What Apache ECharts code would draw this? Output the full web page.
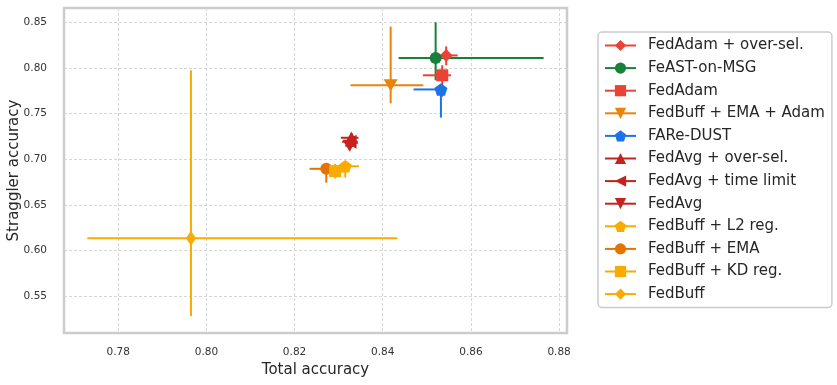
<!DOCTYPE html>
<html>
<head>
<meta charset="utf-8">
<script src="https://cdn.jsdelivr.net/npm/echarts@6/dist/echarts.min.js"></script>
<style>
  html, body { margin: 0; padding: 0; background: #fff; }
  #chart { width: 837px; height: 385px; }
</style>
</head>
<body>
<div id="chart"></div>
<script>
// 方法名称
var methods = ['FedAdam + over-sel.', 'FeAST-on-MSG', 'FedAdam', 'FedBuff + EMA + Adam', 'FARe-DUST',
    'FedAvg + over-sel.', 'FedAvg + time limit', 'FedAvg', 'FedBuff + L2 reg.', 'FedBuff + EMA',
    'FedBuff + KD reg.', 'FedBuff'];
// 总体准确率 (均值 / 下限 / 上限)
var totalAcc = [0.8544, 0.8520, 0.8535, 0.8418, 0.8532, 0.8329, 0.8327, 0.8325, 0.8315, 0.8272, 0.8292, 0.7965];
var totalLow = [0.8518, 0.8436, 0.8491, 0.8327, 0.8470, 0.8305, 0.8308, 0.8315, 0.8290, 0.8234, 0.8265, 0.7730];
var totalHigh = [0.8570, 0.8765, 0.8555, 0.8492, 0.8535, 0.8345, 0.8343, 0.8335, 0.8346, 0.8300, 0.8315, 0.8433];
// 掉队者准确率 (均值 / 下限 / 上限)
var stragAcc = [0.8138, 0.8109, 0.7920, 0.7812, 0.7765, 0.7236, 0.7192, 0.7149, 0.6924, 0.6896, 0.6870, 0.6135];
var stragLow = [0.8029, 0.7866, 0.7685, 0.7613, 0.7457, 0.7180, 0.7150, 0.7110, 0.6800, 0.6744, 0.6790, 0.5283];
var stragHigh = [0.8237, 0.8500, 0.8030, 0.8453, 0.7775, 0.7290, 0.7230, 0.7190, 0.6980, 0.6960, 0.6950, 0.7975];

var pentagon = 'path://M50,0 L97.6,34.5 L79.4,90.5 L20.6,90.5 L2.4,34.5 Z';
var styles = [
    { color: '#EA4335', symbol: 'diamond', size: [13, 13], rotate: 0 },
    { color: '#188038', symbol: 'circle', size: 12, rotate: 0 },
    { color: '#EA4335', symbol: 'rect', size: 12, rotate: 0 },
    { color: '#E8840A', symbol: 'triangle', size: [14, 12], rotate: 180 },
    { color: '#1A73E8', symbol: pentagon, size: [13, 12.5], rotate: 0 },
    { color: '#C5221F', symbol: 'triangle', size: [14, 12], rotate: 0 },
    { color: '#C5221F', symbol: 'triangle', size: [14, 12], rotate: 90 },
    { color: '#C5221F', symbol: 'triangle', size: [14, 12], rotate: 180 },
    { color: '#F9AB00', symbol: pentagon, size: [13, 12.5], rotate: 0 },
    { color: '#E37400', symbol: 'circle', size: 12, rotate: 0 },
    { color: '#F9AB00', symbol: 'rect', size: 12, rotate: 0 },
    { color: '#F9AB00', symbol: 'diamond', size: [10, 15], rotate: 0 }
];

var font = 'DejaVu Sans';
var series = [];
// 点 (图例用 line 系列的图标)
methods.forEach(function (name, i) {
    series.push({
        name: name,
        type: 'line',
        data: [[totalAcc[i], stragAcc[i]]],
        symbol: styles[i].symbol,
        symbolSize: styles[i].size,
        symbolRotate: styles[i].rotate,
        showSymbol: true,
        lineStyle: { color: styles[i].color, width: 2 },
        itemStyle: { color: styles[i].color, opacity: 1 },
        z: 3,
        silent: true,
        animation: false
    });
});
// 误差线
methods.forEach(function (name, i) {
    series.push({
        name: name,
        type: 'custom',
        data: [[totalAcc[i], stragAcc[i], totalLow[i], totalHigh[i], stragLow[i], stragHigh[i]]],
        renderItem: function (params, api) {
            var c = api.coord([api.value(0), api.value(1)]);
            var xl = api.coord([api.value(2), api.value(1)]);
            var xh = api.coord([api.value(3), api.value(1)]);
            var yl = api.coord([api.value(0), api.value(4)]);
            var yh = api.coord([api.value(0), api.value(5)]);
            var st = { stroke: styles[i].color, lineWidth: 2 };
            return {
                type: 'group',
                children: [
                    { type: 'line', shape: { x1: xl[0], y1: c[1], x2: xh[0], y2: c[1] }, style: st },
                    { type: 'line', shape: { x1: c[0], y1: yl[1], x2: c[0], y2: yh[1] }, style: st }
                ]
            };
        },
        z: 2,
        silent: true,
        animation: false
    });
});

var myChart = echarts.init(document.getElementById('chart'));
myChart.setOption({
    animation: false,
    textStyle: { fontFamily: font },
    grid: {
        left: 64, top: 8, right: 270, bottom: 52,
        containLabel: false,
        outerBoundsMode: 'none',
        show: true,
        borderColor: '#cccccc',
        borderWidth: 2.5,
        backgroundColor: '#ffffff'
    },
    legend: {
        orient: 'vertical',
        left: 598,
        top: 32,
        padding: [6, 7, 6, 6],
        itemWidth: 31,
        itemHeight: 14,
        itemGap: 7.6,
        borderColor: '#cccccc',
        borderWidth: 1.5,
        borderRadius: 4,
        data: methods,
        textStyle: { fontFamily: font, fontSize: 15, color: '#262626', lineHeight: 14, padding: [0, 0, 0, 7] }
    },
    xAxis: {
        type: 'value',
        min: 0.7677,
        max: 0.8818,
        splitNumber: 6,
        name: 'Total accuracy',
        nameLocation: 'middle',
        nameGap: 30,
        nameMoveOverlap: false,
        nameTextStyle: { fontFamily: font, fontSize: 15, color: '#262626' },
        axisLine: { show: false },
        axisTick: { show: false },
        axisLabel: {
            showMinLabel: false, showMaxLabel: false,
            fontFamily: font, fontSize: 10.5, color: '#333333', margin: 14,
            formatter: function (v) { return v.toFixed(2); }
        },
        splitLine: { show: true, lineStyle: { color: '#cccccc', width: 0.8, type: [3, 2] } }
    },
    yAxis: {
        type: 'value',
        min: 0.5098,
        max: 0.8657,
        splitNumber: 7,
        name: 'Straggler accuracy',
        nameLocation: 'middle',
        nameGap: 42,
        nameMoveOverlap: false,
        nameTextStyle: { fontFamily: font, fontSize: 15, color: '#262626' },
        axisLine: { show: false },
        axisTick: { show: false },
        axisLabel: {
            showMinLabel: false, showMaxLabel: false,
            fontFamily: font, fontSize: 10.5, color: '#333333', margin: 17,
            formatter: function (v) { return v.toFixed(2); }
        },
        splitLine: { show: true, lineStyle: { color: '#cccccc', width: 0.8, type: [3, 2] } }
    },
    series: series
});
</script>
</body>
</html>
